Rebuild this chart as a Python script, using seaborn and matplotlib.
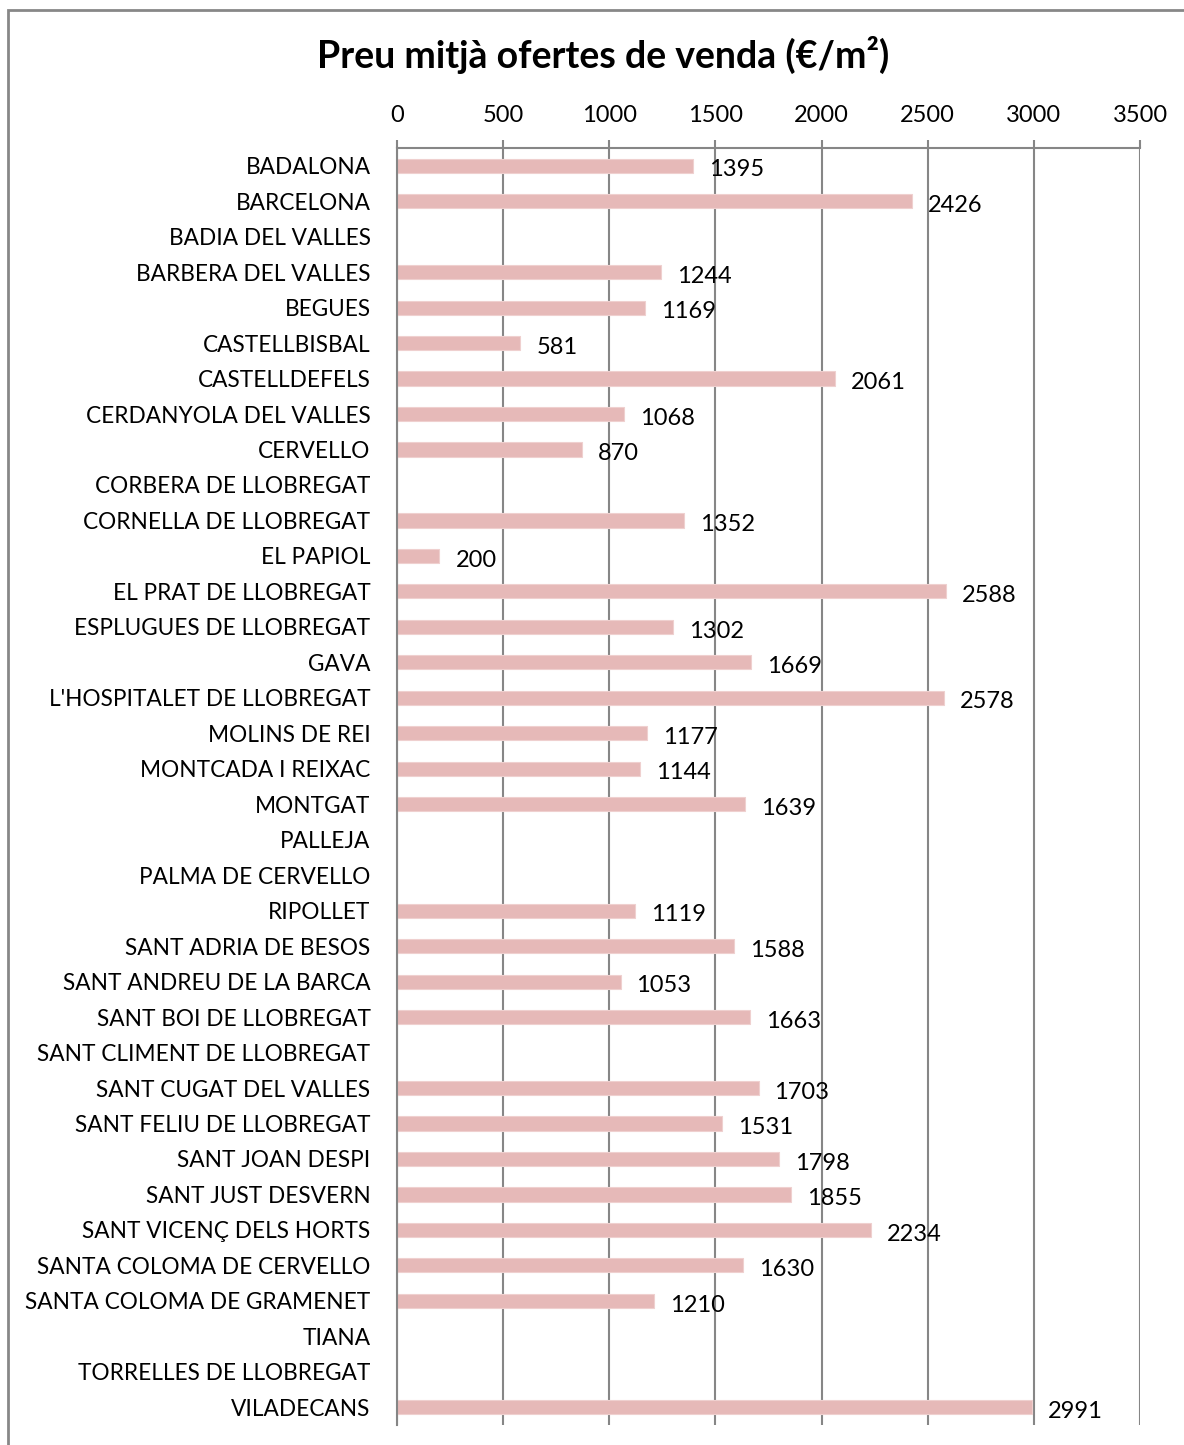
import numpy as np
import pandas as pd

import matplotlib

matplotlib.use("Agg")
import matplotlib.pyplot as plt  # noqa: E402
from matplotlib.patches import Rectangle  # noqa: E402

import seaborn as sns  # noqa: E402

municipis = [
    "BADALONA", "BARCELONA", "BADIA DEL VALLES", "BARBERA DEL VALLES", "BEGUES",
    "CASTELLBISBAL", "CASTELLDEFELS", "CERDANYOLA DEL VALLES", "CERVELLO",
    "CORBERA DE LLOBREGAT", "CORNELLA DE LLOBREGAT", "EL PAPIOL",
    "EL PRAT DE LLOBREGAT", "ESPLUGUES DE LLOBREGAT", "GAVA",
    "L'HOSPITALET DE LLOBREGAT", "MOLINS DE REI", "MONTCADA I REIXAC", "MONTGAT",
    "PALLEJA", "PALMA DE CERVELLO", "RIPOLLET", "SANT ADRIA DE BESOS",
    "SANT ANDREU DE LA BARCA", "SANT BOI DE LLOBREGAT", "SANT CLIMENT DE LLOBREGAT",
    "SANT CUGAT DEL VALLES", "SANT FELIU DE LLOBREGAT", "SANT JOAN DESPI",
    "SANT JUST DESVERN", "SANT VICENÇ DELS HORTS", "SANTA COLOMA DE CERVELLO",
    "SANTA COLOMA DE GRAMENET", "TIANA", "TORRELLES DE LLOBREGAT", "VILADECANS",
]
preu = [
    1395, 2426, np.nan, 1244, 1169,
    581, 2061, 1068, 870,
    np.nan, 1352, 200,
    2588, 1302, 1669,
    2578, 1177, 1144, 1639,
    np.nan, np.nan, 1119, 1588,
    1053, 1663, np.nan,
    1703, 1531, 1798,
    1855, 2234, 1630,
    1210, np.nan, np.nan, 2991,
]
x_ticks = [0, 500, 1000, 1500, 2000, 2500, 3000, 3500]

BAR_COLOR = "#E6B9B8"
GRID_COLOR = "#868686"

sns.set_style("white")
plt.rcParams["font.family"] = ["Lato", "DejaVu Sans"]

df = pd.DataFrame({"municipi": municipis, "preu": preu})
df_valid = df.dropna()

fig = plt.figure(figsize=(11.84, 14.45), dpi=100)
ax = fig.add_axes([397 / 1184, 1 - 1425 / 1445, (1140 - 397) / 1184, (1425 - 148) / 1445])

sns.barplot(
    data=df_valid, y="municipi", x="preu", order=municipis, orient="h",
    color=BAR_COLOR, width=0.4, saturation=1, edgecolor="#EFD0CF", linewidth=0.8, ax=ax,
)

# value labels right of each bar
for i, v in enumerate(preu):
    if np.isnan(v):
        continue
    ax.annotate(
        f"{int(v)}", xy=(v, i), xytext=(11.5, -3), textcoords="offset points",
        ha="left", va="center", fontsize=17, color="black",
    )

ax.set_xlim(0, 3500)
ax.set_ylim(len(municipis) - 0.5, -0.5)
ax.set_xticks(x_ticks)
ax.set_xticklabels([str(t) for t in x_ticks])
ax.xaxis.tick_top()
ax.tick_params(axis="x", direction="out", length=6, width=1.5, color=GRID_COLOR,
               pad=10, labelsize=17, labelcolor="black")
ax.tick_params(axis="y", which="major", length=0, pad=19, labelsize=16.3,
               labelcolor="black")
ax.set_yticks(np.arange(-0.5, len(municipis), 1.0), minor=True)
ax.tick_params(axis="y", which="minor", direction="out", length=6, width=1.5,
               color=GRID_COLOR)
ax.set_xlabel("")
ax.set_ylabel("")

ax.grid(axis="x", color=GRID_COLOR, linewidth=1.5)
ax.grid(axis="y", visible=False)
ax.set_axisbelow(True)
for side in ["right", "bottom"]:
    ax.spines[side].set_visible(False)
for side in ["left", "top"]:
    ax.spines[side].set_color(GRID_COLOR)
    ax.spines[side].set_linewidth(1.5)

fig.text(603 / 1184, 1 - 55 / 1445, "Preu mitjà ofertes de venda (€/m²)",
         ha="center", va="center", fontsize=27, fontweight="bold", color="black")

# outer chart-area frame
fig.patches.append(Rectangle((8 / 1184, -0.05), 1.0, 1 - 10 / 1445 + 0.05,
                             transform=fig.transFigure, fill=False,
                             edgecolor="#878787", linewidth=2))

fig.savefig("out.png", dpi=100)
